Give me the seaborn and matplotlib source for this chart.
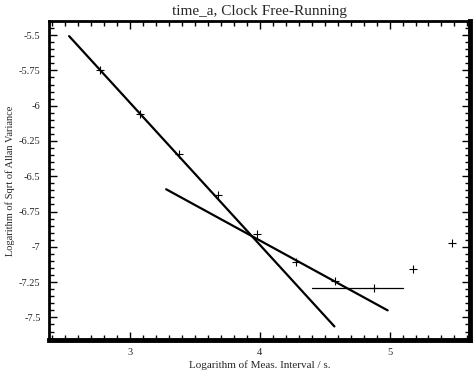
import matplotlib
matplotlib.use("Agg")
import matplotlib.pyplot as plt
from matplotlib.ticker import MultipleLocator, FixedLocator
import seaborn as sns
import pandas as pd

# data points (+ markers)
log_tau = [2.77, 3.08, 3.38, 3.68, 3.98, 4.28, 4.58, 4.88, 5.18, 5.48]
log_adev = [-5.75, -6.06, -6.345, -6.635, -6.91, -7.11, -7.245, -7.29, -7.16, -6.97]

# fitted lines
steep_x = [2.53, 4.575]
steep_y = [-5.507, -7.564]
shallow_x = [3.278, 4.985]
shallow_y = [-6.592, -7.45]
flat_x = [4.40, 5.10]
flat_y = [-7.29, -7.29]

xticks = [3, 4, 5]
yticks = [-5.5, -5.75, -6, -6.25, -6.5, -6.75, -7, -7.25, -7.5]
ytick_labels = ["-5.5", "-5.75", "-6", "-6.25", "-6.5", "-6.75", "-7", "-7.25", "-7.5"]

sns.set_style("ticks")
plt.rcParams['font.family'] = ['Liberation Serif', 'DejaVu Serif']

fig = plt.figure(figsize=(4.74, 3.72), dpi=100)
ax = fig.add_axes([49/474, 1 - 340/372, (470 - 49)/474, (340 - 21)/372])

pts = pd.DataFrame({"x": log_tau, "y": log_adev})
sns.scatterplot(data=pts, x="x", y="y", marker="+", s=28, color="black",
                linewidth=0.8, ax=ax)
sns.lineplot(x=steep_x, y=steep_y, color="black", linewidth=1.6, ax=ax)
sns.lineplot(x=shallow_x, y=shallow_y, color="black", linewidth=1.6, ax=ax)
sns.lineplot(x=flat_x, y=flat_y, color="black", linewidth=0.9, ax=ax)

ax.set_xlim(2.375, 5.62)
ax.set_ylim(-7.66, -5.40)

ax.xaxis.set_major_locator(FixedLocator(xticks))
ax.xaxis.set_minor_locator(MultipleLocator(0.1))
ax.yaxis.set_major_locator(FixedLocator(yticks))
ax.set_yticklabels(ytick_labels)
ax.yaxis.set_minor_locator(MultipleLocator(0.05))

ax.tick_params(which="both", direction="in", top=True, right=True,
               color="black", labelsize=7.5, pad=6)
ax.tick_params(which="major", length=6, width=1.0)
ax.tick_params(which="minor", length=3.5, width=1.0)

for side in ["left", "top"]:
    ax.spines[side].set_linewidth(2.0)
for side in ["right", "bottom"]:
    ax.spines[side].set_linewidth(3.5)
for s in ax.spines.values():
    s.set_color("black")

ax.set_xlabel("Logarithm of Meas. Interval / s.", fontsize=8, labelpad=2)
ax.set_ylabel("Logarithm of Sqrt of Allan Variance", fontsize=7.5)
ax.yaxis.set_label_coords(-0.080, 0.5)
ax.set_title("time_a, Clock Free-Running", fontsize=11, pad=4)

fig.savefig("out.png", dpi=100)
